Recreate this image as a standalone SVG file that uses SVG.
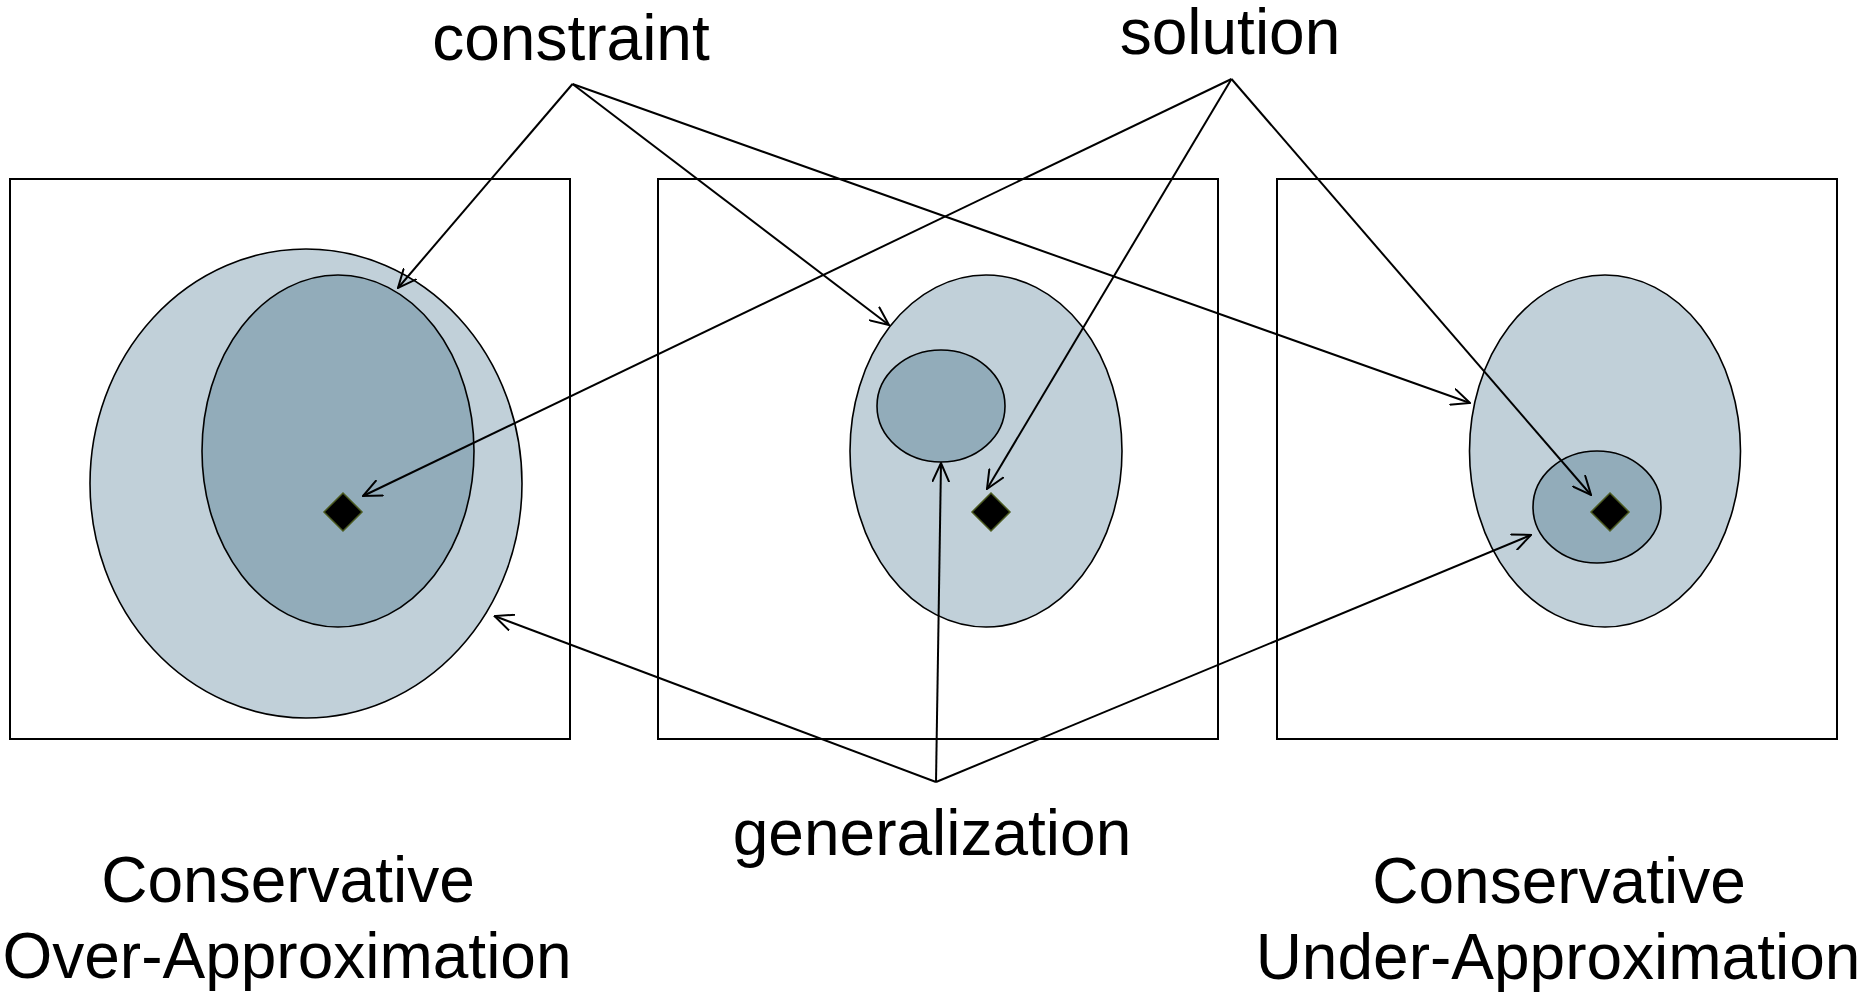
<svg xmlns="http://www.w3.org/2000/svg" width="1864" height="993" viewBox="0 0 1864 993">
<style>
.box{fill:#fff;stroke:#000;stroke-width:2}
.outer{fill:#c1d0d9;stroke:#000;stroke-width:1.6}
.inner{fill:#92acba;stroke:#000;stroke-width:1.6}
.dia{fill:#000;stroke:#4b5a20;stroke-width:1.5}
.lbl{font-family:"Liberation Sans",Arial,sans-serif;font-size:64px;fill:#000;text-anchor:middle}
.con{fill:none;stroke:#000;stroke-width:2;marker-end:url(#arr)}
</style>
<defs>
<marker id="arr" markerUnits="userSpaceOnUse" viewBox="0 0 20 18" refX="19" refY="9" markerWidth="20" markerHeight="18" orient="auto">
<path d="M0,0.5 L19,9 L0,17.5" fill="none" stroke="#000" stroke-width="2"/>
</marker>
</defs>
<rect width="1864" height="993" fill="#fff"/>
<g id="over">
<rect class="box" x="10" y="179" width="560" height="560"/>
<ellipse class="outer" cx="306" cy="483.5" rx="216" ry="234.5"/>
<ellipse class="inner" cx="338" cy="451" rx="136" ry="176"/>
<polygon class="dia" points="343,493 362,512 343,531 324,512"/>
</g>
<g id="generalization-box">
<rect class="box" x="658" y="179" width="560" height="560"/>
<ellipse class="outer" cx="986" cy="451" rx="136" ry="176"/>
<ellipse class="inner" cx="941" cy="406" rx="64" ry="56"/>
<polygon class="dia" points="991,493 1010,512 991,531 972,512"/>
</g>
<g id="under">
<rect class="box" x="1277" y="179" width="560" height="560"/>
<ellipse class="outer" cx="1605" cy="451" rx="135.5" ry="176"/>
<ellipse class="inner" cx="1597" cy="507" rx="64" ry="56"/>
<polygon class="dia" points="1610,493 1629,512 1610,531 1591,512"/>
</g>
<g id="labels">
<text class="lbl" x="571" y="60">constraint</text>
<text class="lbl" x="1230" y="54">solution</text>
<text class="lbl" x="932" y="855">generalization</text>
<text class="lbl" x="288" y="902">Conservative</text>
<text class="lbl" x="287" y="978">Over-Approximation</text>
<text class="lbl" x="1559" y="903">Conservative</text>
<text class="lbl" x="1558" y="979">Under-Approximation</text>
</g>
<g id="connectors">
<line class="con" x1="572.5" y1="84" x2="398" y2="288"/>
<line class="con" x1="572.5" y1="84" x2="889" y2="325"/>
<line class="con" x1="572.5" y1="84" x2="1470" y2="403"/>
<line class="con" x1="1231.5" y1="79" x2="363" y2="496"/>
<line class="con" x1="1231.5" y1="79" x2="987" y2="489"/>
<line class="con" x1="1231.5" y1="79" x2="1591" y2="495"/>
<line class="con" x1="936" y1="782" x2="494.5" y2="616"/>
<line class="con" x1="936" y1="782" x2="941" y2="463"/>
<line class="con" x1="936" y1="782" x2="1531" y2="535"/>
</g>
</svg>
